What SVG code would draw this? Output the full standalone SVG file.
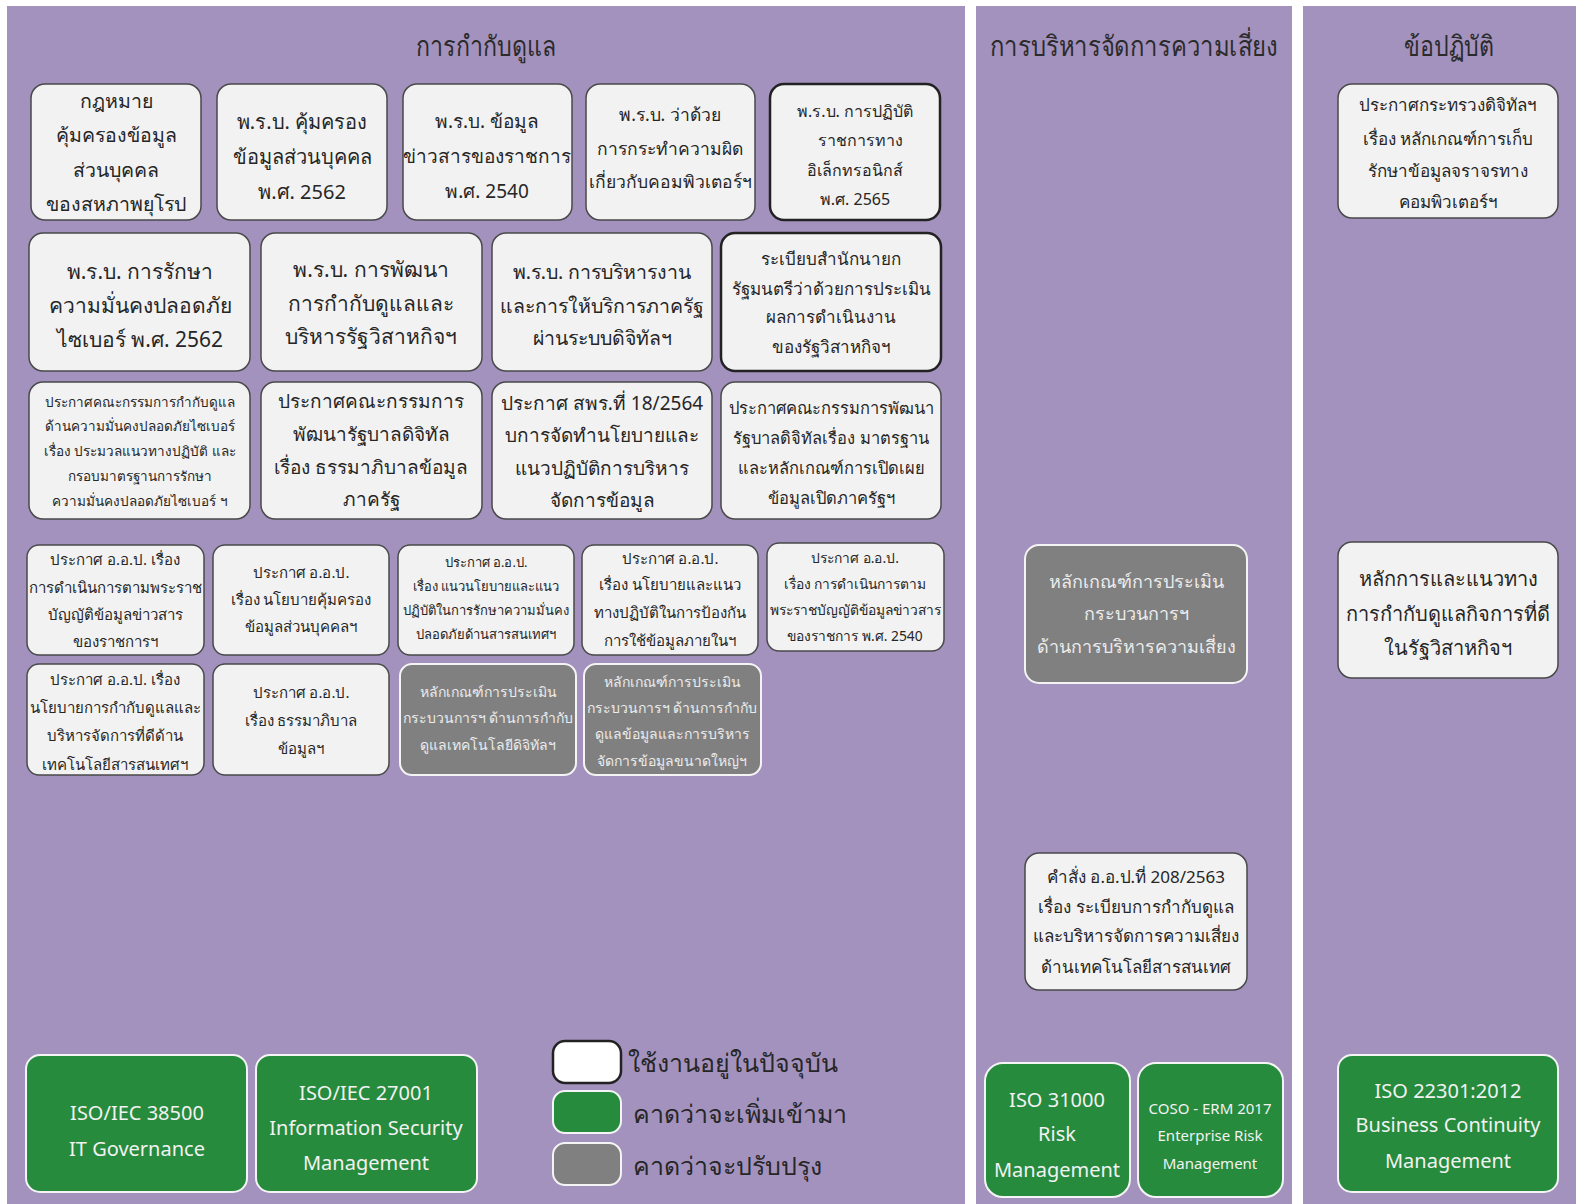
<svg xmlns="http://www.w3.org/2000/svg" width="1584" height="1204" viewBox="0 0 1584 1204">
<style>
.panel{fill:#A392BE}
.title{font-family:"Noto Sans","DejaVu Sans",sans-serif;font-weight:300;fill:#2b2b2b;text-anchor:middle;dominant-baseline:central}
.w rect{fill:#F2F2F2;stroke:#4a4a4a;stroke-width:1.5}
.wd rect{fill:#F2F2F2;stroke:#222;stroke-width:2.5}
.g rect{fill:#808080;stroke:#f4f4f4;stroke-width:2}
.gr rect{fill:#268B3D;stroke:#f4f4f4;stroke-width:2}
text{font-family:"Noto Sans","DejaVu Sans",sans-serif;text-anchor:middle;dominant-baseline:central}
.w text,.wd text{fill:#262626}
.g text{fill:#ececec}
.gr text{fill:#f2f2f2}
.lg text{text-anchor:start;fill:#262626}
</style>
<rect width="1584" height="1204" fill="#ffffff"/>
<rect class="panel" x="7" y="6" width="958" height="1198"/>
<rect class="panel" x="976" y="6" width="316" height="1198"/>
<rect class="panel" x="1303" y="6" width="273" height="1198"/>
<text class="title" x="486" y="45" font-size="28" textLength="140" lengthAdjust="spacingAndGlyphs">การกำกับดูแล</text>
<text class="title" x="1134" y="45" font-size="28" textLength="288" lengthAdjust="spacingAndGlyphs">การบริหารจัดการความเสี่ยง</text>
<text class="title" x="1449" y="45" font-size="28" textLength="90" lengthAdjust="spacingAndGlyphs">ข้อปฏิบัติ</text>

<g id="b1" class="w"><rect x="31" y="84" width="170" height="136" rx="14"/>
<text font-size="19.5"><tspan x="116" y="100">กฎหมาย</tspan><tspan x="116" y="134">คุ้มครองข้อมูล</tspan><tspan x="116" y="169">ส่วนบุคคล</tspan><tspan x="116" y="203">ของสหภาพยุโรป</tspan></text></g>
<g id="b2" class="w"><rect x="217" y="84" width="170" height="136" rx="14"/>
<text font-size="20"><tspan x="302" y="121">พ.ร.บ. คุ้มครอง</tspan><tspan x="302" y="156">ข้อมูลส่วนบุคคล</tspan><tspan x="302" y="191">พ.ศ. 2562</tspan></text></g>
<g id="b3" class="w"><rect x="403" y="84" width="169" height="136" rx="14"/>
<text font-size="19"><tspan x="487" y="121">พ.ร.บ. ข้อมูล</tspan><tspan x="487" y="156">ข่าวสารของราชการ</tspan><tspan x="487" y="191">พ.ศ. 2540</tspan></text></g>
<g id="b4" class="w"><rect x="586" y="84" width="169" height="136" rx="14"/>
<text font-size="17.5"><tspan x="670" y="114">พ.ร.บ. ว่าด้วย</tspan><tspan x="670" y="148">การกระทำความผิด</tspan><tspan x="670" y="181">เกี่ยวกับคอมพิวเตอร์ฯ</tspan></text></g>
<g id="b5" class="wd"><rect x="770" y="84" width="170" height="136" rx="14"/>
<text font-size="16"><tspan x="855" y="111">พ.ร.บ. การปฏิบัติ</tspan><tspan x="860" y="140">ราชการทาง</tspan><tspan x="855" y="170">อิเล็กทรอนิกส์</tspan><tspan x="855" y="199">พ.ศ. 2565</tspan></text></g>

<g id="c1" class="w"><rect x="29" y="233" width="221" height="138" rx="14"/>
<text font-size="21"><tspan x="140" y="271">พ.ร.บ. การรักษา</tspan><tspan x="140" y="305">ความมั่นคงปลอดภัย</tspan><tspan x="140" y="339">ไซเบอร์ พ.ศ. 2562</tspan></text></g>
<g id="c2" class="w"><rect x="261" y="233" width="221" height="138" rx="14"/>
<text font-size="21"><tspan x="371" y="269">พ.ร.บ. การพัฒนา</tspan><tspan x="371" y="303">การกำกับดูแลและ</tspan><tspan x="371" y="336">บริหารรัฐวิสาหกิจฯ</tspan></text></g>
<g id="c3" class="w"><rect x="492" y="233" width="220" height="138" rx="14"/>
<text font-size="19.5"><tspan x="602" y="271">พ.ร.บ. การบริหารงาน</tspan><tspan x="602" y="305">และการให้บริการภาครัฐ</tspan><tspan x="602" y="337">ผ่านระบบดิจิทัลฯ</tspan></text></g>
<g id="c4" class="wd"><rect x="721" y="233" width="220" height="138" rx="14"/>
<text font-size="17"><tspan x="831" y="258">ระเบียบสำนักนายก</tspan><tspan x="831" y="288">รัฐมนตรีว่าด้วยการประเมิน</tspan><tspan x="831" y="316">ผลการดำเนินงาน</tspan><tspan x="831" y="346">ของรัฐวิสาหกิจฯ</tspan></text></g>

<g id="d1" class="w"><rect x="29" y="382" width="221" height="137" rx="14"/>
<text font-size="13.5"><tspan x="140" y="402">ประกาศคณะกรรมการกำกับดูแล</tspan><tspan x="140" y="426">ด้านความมั่นคงปลอดภัยไซเบอร์</tspan><tspan x="140" y="451">เรื่อง ประมวลแนวทางปฏิบัติ และ</tspan><tspan x="140" y="476">กรอบมาตรฐานการรักษา</tspan><tspan x="140" y="501">ความมั่นคงปลอดภัยไซเบอร์ ฯ</tspan></text></g>
<g id="d2" class="w"><rect x="261" y="382" width="221" height="137" rx="14"/>
<text font-size="19"><tspan x="371" y="401">ประกาศคณะกรรมการ</tspan><tspan x="371" y="434">พัฒนารัฐบาลดิจิทัล</tspan><tspan x="371" y="467">เรื่อง ธรรมาภิบาลข้อมูล</tspan><tspan x="371" y="499">ภาครัฐ</tspan></text></g>
<g id="d3" class="w"><rect x="492" y="382" width="220" height="137" rx="14"/>
<text font-size="19"><tspan x="602" y="403">ประกาศ สพร.ที่ 18/2564</tspan><tspan x="602" y="435">บการจัดทำนโยบายและ</tspan><tspan x="602" y="468">แนวปฏิบัติการบริหาร</tspan><tspan x="602" y="500">จัดการข้อมูล</tspan></text></g>
<g id="d4" class="w"><rect x="721" y="382" width="220" height="137" rx="14"/>
<text font-size="16.5"><tspan x="831" y="407">ประกาศคณะกรรมการพัฒนา</tspan><tspan x="831" y="437">รัฐบาลดิจิทัลเรื่อง มาตรฐาน</tspan><tspan x="831" y="467">และหลักเกณฑ์การเปิดเผย</tspan><tspan x="831" y="497">ข้อมูลเปิดภาครัฐฯ</tspan></text></g>

<g id="e1" class="w"><rect x="27" y="545" width="177" height="110" rx="12"/>
<text font-size="15"><tspan x="115" y="559">ประกาศ อ.อ.ป. เรื่อง</tspan><tspan x="115" y="587">การดำเนินการตามพระราช</tspan><tspan x="115" y="614">บัญญัติข้อมูลข่าวสาร</tspan><tspan x="115" y="641">ของราชการฯ</tspan></text></g>
<g id="e2" class="w"><rect x="213" y="545" width="176" height="110" rx="12"/>
<text font-size="15"><tspan x="301" y="572">ประกาศ อ.อ.ป.</tspan><tspan x="301" y="599">เรื่อง นโยบายคุ้มครอง</tspan><tspan x="301" y="626">ข้อมูลส่วนบุคคลฯ</tspan></text></g>
<g id="e3" class="w"><rect x="398" y="545" width="176" height="110" rx="12"/>
<text font-size="13"><tspan x="486" y="562">ประกาศ อ.อ.ป.</tspan><tspan x="486" y="586">เรื่อง แนวนโยบายและแนว</tspan><tspan x="486" y="610">ปฏิบัติในการรักษาความมั่นคง</tspan><tspan x="486" y="634">ปลอดภัยด้านสารสนเทศฯ</tspan></text></g>
<g id="e4" class="w"><rect x="582" y="545" width="176" height="110" rx="12"/>
<text font-size="15"><tspan x="670" y="558">ประกาศ อ.อ.ป.</tspan><tspan x="670" y="584">เรื่อง นโยบายและแนว</tspan><tspan x="670" y="612">ทางปฏิบัติในการป้องกัน</tspan><tspan x="670" y="640">การใช้ข้อมูลภายในฯ</tspan></text></g>
<g id="e5" class="w"><rect x="767" y="543" width="177" height="108" rx="12"/>
<text font-size="13.8"><tspan x="855" y="557">ประกาศ อ.อ.ป.</tspan><tspan x="855" y="583">เรื่อง การดำเนินการตาม</tspan><tspan x="855" y="609">พระราชบัญญัติข้อมูลข่าวสาร</tspan><tspan x="855" y="635">ของราชการ พ.ศ. 2540</tspan></text></g>

<g id="f1" class="w"><rect x="27" y="664" width="177" height="111" rx="12"/>
<text font-size="15"><tspan x="115" y="679">ประกาศ อ.อ.ป. เรื่อง</tspan><tspan x="115" y="707">นโยบายการกำกับดูแลและ</tspan><tspan x="115" y="735">บริหารจัดการที่ดีด้าน</tspan><tspan x="115" y="764">เทคโนโลยีสารสนเทศฯ</tspan></text></g>
<g id="f2" class="w"><rect x="213" y="664" width="176" height="111" rx="12"/>
<text font-size="15"><tspan x="301" y="692">ประกาศ อ.อ.ป.</tspan><tspan x="301" y="720">เรื่อง ธรรมาภิบาล</tspan><tspan x="301" y="748">ข้อมูลฯ</tspan></text></g>
<g id="f3" class="g"><rect x="400" y="664" width="176" height="111" rx="12"/>
<text font-size="14"><tspan x="488" y="691">หลักเกณฑ์การประเมิน</tspan><tspan x="488" y="717">กระบวนการฯ ด้านการกำกับ</tspan><tspan x="488" y="744">ดูแลเทคโนโลยีดิจิทัลฯ</tspan></text></g>
<g id="f4" class="g"><rect x="584" y="664" width="177" height="111" rx="12"/>
<text font-size="14"><tspan x="672" y="681">หลักเกณฑ์การประเมิน</tspan><tspan x="672" y="707">กระบวนการฯ ด้านการกำกับ</tspan><tspan x="672" y="733">ดูแลข้อมูลและการบริหาร</tspan><tspan x="672" y="760">จัดการข้อมูลขนาดใหญ่ฯ</tspan></text></g>

<g id="i1" class="gr"><rect x="26" y="1055" width="221" height="137" rx="14"/>
<text font-size="20"><tspan x="137" y="1112">ISO/IEC 38500</tspan><tspan x="137" y="1148">IT Governance</tspan></text></g>
<g id="i2" class="gr"><rect x="256" y="1055" width="221" height="137" rx="14"/>
<text font-size="20"><tspan x="366" y="1092">ISO/IEC 27001</tspan><tspan x="366" y="1127">Information Security</tspan><tspan x="366" y="1162">Management</tspan></text></g>

<g id="legend" class="lg">
<rect x="553" y="1041" width="68" height="42" rx="12" fill="#ffffff" stroke="#222" stroke-width="2.5"/>
<rect x="553" y="1091" width="68" height="42" rx="12" fill="#268B3D" stroke="#f4f4f4" stroke-width="2"/>
<rect x="553" y="1143" width="68" height="42" rx="12" fill="#808080" stroke="#f4f4f4" stroke-width="2"/>
<text x="628" y="1062" font-size="25">ใช้งานอยู่ในปัจจุบัน</text>
<text x="633" y="1113" font-size="25">คาดว่าจะเพิ่มเข้ามา</text>
<text x="633" y="1165" font-size="25">คาดว่าจะปรับปรุง</text>
</g>

<g id="g1" class="g"><rect x="1025" y="545" width="222" height="138" rx="14"/>
<text font-size="18"><tspan x="1136" y="581">หลักเกณฑ์การประเมิน</tspan><tspan x="1136" y="613">กระบวนการฯ</tspan><tspan x="1136" y="646">ด้านการบริหารความเสี่ยง</tspan></text></g>
<g id="g2" class="w"><rect x="1025" y="853" width="222" height="137" rx="14"/>
<text font-size="17"><tspan x="1136" y="876">คำสั่ง อ.อ.ป.ที่ 208/2563</tspan><tspan x="1136" y="906">เรื่อง ระเบียบการกำกับดูแล</tspan><tspan x="1136" y="935">และบริหารจัดการความเสี่ยง</tspan><tspan x="1136" y="966">ด้านเทคโนโลยีสารสนเทศ</tspan></text></g>
<g id="g3" class="gr"><rect x="985" y="1063" width="145" height="134" rx="18"/>
<text font-size="20"><tspan x="1057" y="1099">ISO 31000</tspan><tspan x="1057" y="1133">Risk</tspan><tspan x="1057" y="1169">Management</tspan></text></g>
<g id="g4" class="gr"><rect x="1138" y="1063" width="145" height="134" rx="18"/>
<text font-size="15"><tspan x="1210" y="1108">COSO - ERM 2017</tspan><tspan x="1210" y="1135">Enterprise Risk</tspan><tspan x="1210" y="1163">Management</tspan></text></g>

<g id="h1" class="w"><rect x="1338" y="84" width="220" height="134" rx="14"/>
<text font-size="17"><tspan x="1448" y="104">ประกาศกระทรวงดิจิทัลฯ</tspan><tspan x="1448" y="138">เรื่อง หลักเกณฑ์การเก็บ</tspan><tspan x="1448" y="170">รักษาข้อมูลจราจรทาง</tspan><tspan x="1448" y="201">คอมพิวเตอร์ฯ</tspan></text></g>
<g id="h2" class="w"><rect x="1338" y="542" width="220" height="136" rx="14"/>
<text font-size="20"><tspan x="1448" y="578">หลักการและแนวทาง</tspan><tspan x="1448" y="613">การกำกับดูแลกิจการที่ดี</tspan><tspan x="1448" y="647">ในรัฐวิสาหกิจฯ</tspan></text></g>
<g id="h3" class="gr"><rect x="1338" y="1055" width="220" height="137" rx="14"/>
<text font-size="20"><tspan x="1448" y="1090">ISO 22301:2012</tspan><tspan x="1448" y="1124">Business Continuity</tspan><tspan x="1448" y="1160">Management</tspan></text></g>

<g id="connectors"></g>
</svg>
